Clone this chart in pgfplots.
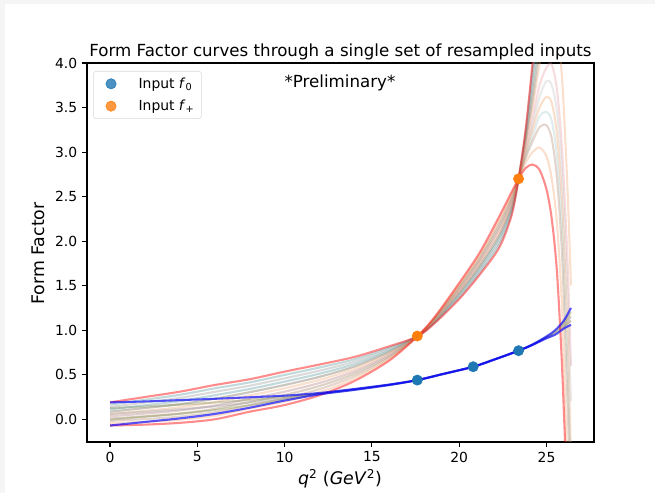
\documentclass[border=0pt]{standalone}
\usepackage{fontspec}
\setmainfont{DejaVu Sans}
\usepackage{pgfplots}
\pgfplotsset{compat=1.18}
\definecolor{tabblue}{HTML}{1F77B4}
\definecolor{taborange}{HTML}{FF7F0E}
\definecolor{cteal}{RGB}{100,160,165}
\definecolor{cgray}{RGB}{150,150,150}
\definecolor{cbrown}{RGB}{170,120,90}
\definecolor{corange}{RGB}{240,150,90}
\definecolor{cpink}{RGB}{225,140,150}
\definecolor{colive}{RGB}{130,140,80}
\pgfplotsset{
  fp/.style={line width=1.5pt, opacity=#1, smooth, tension=0.5, forget plot},
}
\begin{document}
\begin{tikzpicture}
\fill[black!4] (-62.64pt,315.4pt) rectangle (408.96pt,318.24pt);
\fill[black!4] (-62.64pt,-36.72pt) rectangle (-59.0pt,318.24pt);
\begin{axis}[
  name=ax, at={(0,0)}, anchor=south west,
  scale only axis, width=365.04pt, height=272.88pt,
  xmin=-1.32, xmax=27.72, ymin=-0.255, ymax=4.0,
  xtick={0,5,10,15,20,25},
  ytick={0,0.5,1,1.5,2,2.5,3,3.5,4},
  yticklabel style={/pgf/number format/.cd, fixed, fixed zerofill, precision=1},
  /pgf/number format/assume math mode=true,
  tick align=outside, major tick length=3.5pt,
  xtick pos=bottom, ytick pos=left,
  tick style={black, line width=0.8pt},
  axis line style={black, line width=0.8pt},
  tick label style={font=\fontsize{10}{12}\selectfont},
  legend cell align=left,
  legend image code/.code={\path (0cm,0cm) (0.95cm,0cm); \draw[#1] plot coordinates {(0.33cm,0cm)};},
  legend style={at={(0.0124,0.979)}, anchor=north west, draw=black!15, rounded corners=2pt,
    fill=white, fill opacity=0.8, text opacity=1, draw opacity=1,
    font=\fontsize{10}{12}\selectfont, inner xsep=3pt, inner ysep=2.5pt, row sep=3pt},
]
% ---- f+ resampled curves (faint) ----
\addplot[fp=0.4, cteal] coordinates {(0,0.164)(2,0.219)(4,0.275)(6,0.347)(8,0.414)(10,0.498)(12,0.581)(14,0.673)(16,0.804)(17.6,0.93)(18.6,1.087)(20.0,1.368)(21.2,1.655)(22.3,1.965)(23.0,2.316)(23.4,2.70)(23.8,3.22)(24.2,3.93)(24.6,4.8)};
\addplot[fp=0.35, cgray] coordinates {(0,0.138)(2,0.188)(4,0.24)(6,0.308)(8,0.377)(10,0.46)(12,0.546)(14,0.646)(16,0.788)(17.6,0.93)(18.6,1.094)(20.0,1.386)(21.2,1.68)(22.3,2.0)(23.0,2.342)(23.4,2.70)(23.8,3.19)(24.2,3.85)(24.6,4.6)};
\addplot[fp=0.4, cteal] coordinates {(0,0.112)(2,0.157)(4,0.205)(6,0.27)(8,0.34)(10,0.423)(12,0.512)(14,0.619)(16,0.772)(17.6,0.93)(18.6,1.101)(20.0,1.404)(21.2,1.705)(22.3,2.035)(23.0,2.368)(23.4,2.70)(23.8,3.15)(24.2,3.73)(24.6,4.4)};
\addplot[fp=0.35, cbrown] coordinates {(0,0.086)(2,0.126)(4,0.17)(6,0.231)(8,0.304)(10,0.385)(12,0.477)(14,0.592)(16,0.756)(17.6,0.93)(18.6,1.108)(20.0,1.422)(21.2,1.73)(22.3,2.07)(23.0,2.394)(23.4,2.70)(23.8,3.12)(24.2,3.62)(24.6,4.2)(25.0,4.9)};
\addplot[fp=0.2, cteal] coordinates {(0,0.086)(2,0.126)(4,0.17)(6,0.231)(8,0.304)(10,0.385)(12,0.477)(14,0.592)(16,0.756)(17.6,0.93)(18.6,1.108)(20.0,1.422)(21.2,1.73)(22.3,2.07)(23.0,2.394)(23.4,2.70)(23.8,3.10)(24.2,3.56)(24.6,4.1)(25.0,4.6)};
\addplot[fp=0.3, corange] coordinates {(0,0.06)(2,0.095)(4,0.135)(6,0.193)(8,0.268)(10,0.348)(12,0.443)(14,0.565)(16,0.74)(17.6,0.93)(18.6,1.115)(20.0,1.44)(21.2,1.755)(22.3,2.105)(23.0,2.42)(23.4,2.70)(23.8,3.08)(24.2,3.50)(24.6,3.98)(25.0,4.35)(25.3,4.5)(25.6,4.4)(25.9,3.8)(26.2,2.6)(26.4,1.5)};
\addplot[fp=0.3, cpink] coordinates {(0,0.034)(2,0.064)(4,0.10)(6,0.154)(8,0.231)(10,0.31)(12,0.408)(14,0.538)(16,0.724)(17.6,0.93)(18.6,1.122)(20.0,1.458)(21.2,1.78)(22.3,2.14)(23.0,2.446)(23.4,2.70)(23.8,3.03)(24.2,3.38)(24.6,3.75)(25.0,3.95)(25.3,3.98)(25.6,3.7)(25.9,3.0)(26.2,1.8)(26.4,0.6)};
\addplot[fp=0.2, cgray] coordinates {(0,0.034)(2,0.064)(4,0.10)(6,0.154)(8,0.231)(10,0.31)(12,0.408)(14,0.538)(16,0.724)(17.6,0.93)(18.6,1.122)(20.0,1.458)(21.2,1.78)(22.3,2.14)(23.0,2.446)(23.4,2.70)(23.8,3.0)(24.2,3.3)(24.6,3.62)(25.0,3.8)(25.3,3.75)(25.6,3.45)(25.9,2.7)(26.2,1.4)(26.4,0.2)};
\addplot[fp=0.3, corange] coordinates {(0,0.008)(2,0.033)(4,0.065)(6,0.116)(8,0.195)(10,0.273)(12,0.374)(14,0.511)(16,0.708)(17.6,0.93)(18.6,1.129)(20.0,1.476)(21.2,1.805)(22.3,2.175)(23.0,2.472)(23.4,2.70)(23.8,2.98)(24.2,3.25)(24.6,3.5)(25.0,3.62)(25.3,3.55)(25.6,3.2)(25.9,2.4)(26.2,1.0)(26.4,-0.4)};
\addplot[fp=0.2, cteal] coordinates {(0,0.008)(2,0.033)(4,0.065)(6,0.116)(8,0.195)(10,0.273)(12,0.374)(14,0.511)(16,0.708)(17.6,0.93)(18.6,1.129)(20.0,1.476)(21.2,1.805)(22.3,2.175)(23.0,2.472)(23.4,2.70)(23.8,2.95)(24.2,3.18)(24.6,3.4)(25.0,3.45)(25.3,3.35)(25.6,2.95)(25.9,2.1)(26.2,0.6)(26.4,-0.7)};
\addplot[fp=0.3, cbrown] coordinates {(0,-0.018)(2,0.002)(4,0.03)(6,0.077)(8,0.158)(10,0.235)(12,0.339)(14,0.484)(16,0.692)(17.6,0.93)(18.6,1.136)(20.0,1.494)(21.2,1.83)(22.3,2.21)(23.0,2.498)(23.4,2.70)(23.8,2.93)(24.2,3.12)(24.6,3.28)(25.0,3.30)(25.3,3.15)(25.6,2.7)(25.9,1.8)(26.2,0.2)(26.4,-1.0)};
\addplot[fp=0.3, corange] coordinates {(0,-0.044)(2,-0.029)(4,-0.005)(6,0.039)(8,0.122)(10,0.198)(12,0.305)(14,0.457)(16,0.676)(17.6,0.93)(18.6,1.143)(20.0,1.512)(21.2,1.855)(22.3,2.245)(23.0,2.524)(23.4,2.70)(23.8,2.88)(24.2,3.00)(24.6,3.05)(25.0,2.95)(25.3,2.70)(25.6,2.2)(25.9,1.2)(26.2,-0.6)};
% ---- f0 resampled curves (faint) ----
\addplot[fp=0.35, colive] coordinates {(0,0.125)(2,0.143)(4,0.164)(6,0.188)(8,0.218)(10,0.251)(12,0.291)(14,0.338)(16,0.389)(17.6,0.44)(19.0,0.505)(20.8,0.59)(22.0,0.67)(23.4,0.77)(24.2,0.836)(25.0,0.915)(25.5,0.963)(26.0,1.043)(26.4,1.108)};
\addplot[fp=0.35, cgray] coordinates {(0,0.06)(2,0.085)(4,0.113)(6,0.145)(8,0.189)(10,0.238)(12,0.288)(14,0.335)(16,0.388)(17.6,0.44)(19.0,0.505)(20.8,0.59)(22.0,0.67)(23.4,0.77)(24.2,0.838)(25.0,0.92)(25.5,0.975)(26.0,1.065)(26.4,1.155)};
\addplot[fp=0.35, colive] coordinates {(0,-0.005)(2,0.028)(4,0.061)(6,0.103)(8,0.159)(10,0.224)(12,0.284)(14,0.333)(16,0.386)(17.6,0.44)(19.0,0.505)(20.8,0.59)(22.0,0.67)(23.4,0.77)(24.2,0.839)(25.0,0.925)(25.5,0.988)(26.0,1.088)(26.4,1.203)};
% ---- f+ boundary curves (red) ----
\addplot[fp=0.45, red] coordinates {(0,0.19)(2,0.25)(4,0.31)(6,0.385)(8,0.45)(10,0.535)(12,0.615)(14,0.70)(16,0.82)(17.6,0.93)(18.6,1.08)(20.0,1.35)(21.2,1.63)(22.3,1.93)(23.0,2.29)(23.4,2.70)(23.8,3.25)(24.2,4.0)(24.6,4.9)};
\addplot[fp=0.45, red] coordinates {(0,-0.07)(2,-0.06)(4,-0.04)(6,0.0)(8,0.085)(10,0.16)(12,0.27)(14,0.43)(16,0.66)(17.6,0.93)(18.6,1.15)(20.0,1.53)(21.2,1.88)(22.3,2.28)(23.0,2.55)(23.4,2.70)(23.8,2.82)(24.2,2.86)(24.6,2.80)(25.0,2.58)(25.3,2.25)(25.6,1.65)(25.9,0.55)(26.2,-1.0)};
% ---- f0 boundary curves (blue) ----
\addplot[fp=0.65, blue] coordinates {(0,0.19)(2,0.20)(4,0.215)(6,0.23)(8,0.247)(10,0.265)(12,0.295)(14,0.34)(16,0.39)(17.6,0.44)(19.0,0.505)(20.8,0.59)(22.0,0.67)(23.4,0.77)(24.2,0.835)(25.0,0.91)(25.5,0.95)(26.0,1.02)(26.4,1.06)};
\addplot[fp=0.65, blue] coordinates {(0,-0.07)(2,-0.03)(4,0.01)(6,0.06)(8,0.13)(10,0.21)(12,0.28)(14,0.33)(16,0.385)(17.6,0.44)(19.0,0.505)(20.8,0.59)(22.0,0.67)(23.4,0.77)(24.2,0.84)(25.0,0.93)(25.5,1.0)(26.0,1.11)(26.4,1.25)};
% ---- input points ----
\addplot[only marks, mark=*, mark size=3.7pt, color=tabblue] coordinates {(17.6,0.44)(20.8,0.59)(23.4,0.77)};
\addlegendentry{Input \textit{f}\textsubscript{0}}
\addplot[only marks, mark=*, mark size=3.7pt, color=taborange] coordinates {(17.6,0.935)(23.4,2.70)};
\addlegendentry{Input \textit{f}\textsubscript{+}}
\end{axis}
\node[anchor=base, font=\fontsize{12}{14}\selectfont] at (182.5pt,277.8pt) {Form Factor curves through a single set of resampled inputs};
\node[anchor=base, font=\fontsize{12}{14}\selectfont] at (182.16pt,255.5pt) {*Preliminary*};
\node[anchor=base, font=\fontsize{12.5}{14}\selectfont] at (182.16pt,-30.96pt) {\textit{q}\textsuperscript{2} (\textit{GeV}\textsuperscript{2})};
\node[anchor=base, rotate=90, font=\fontsize{12.5}{14}\selectfont] at (-30.24pt,135.72pt) {Form Factor};
\pgfresetboundingbox
\path[use as bounding box] (-62.64pt,-36.72pt) rectangle (408.96pt,318.24pt);
\end{tikzpicture}
\end{document}
